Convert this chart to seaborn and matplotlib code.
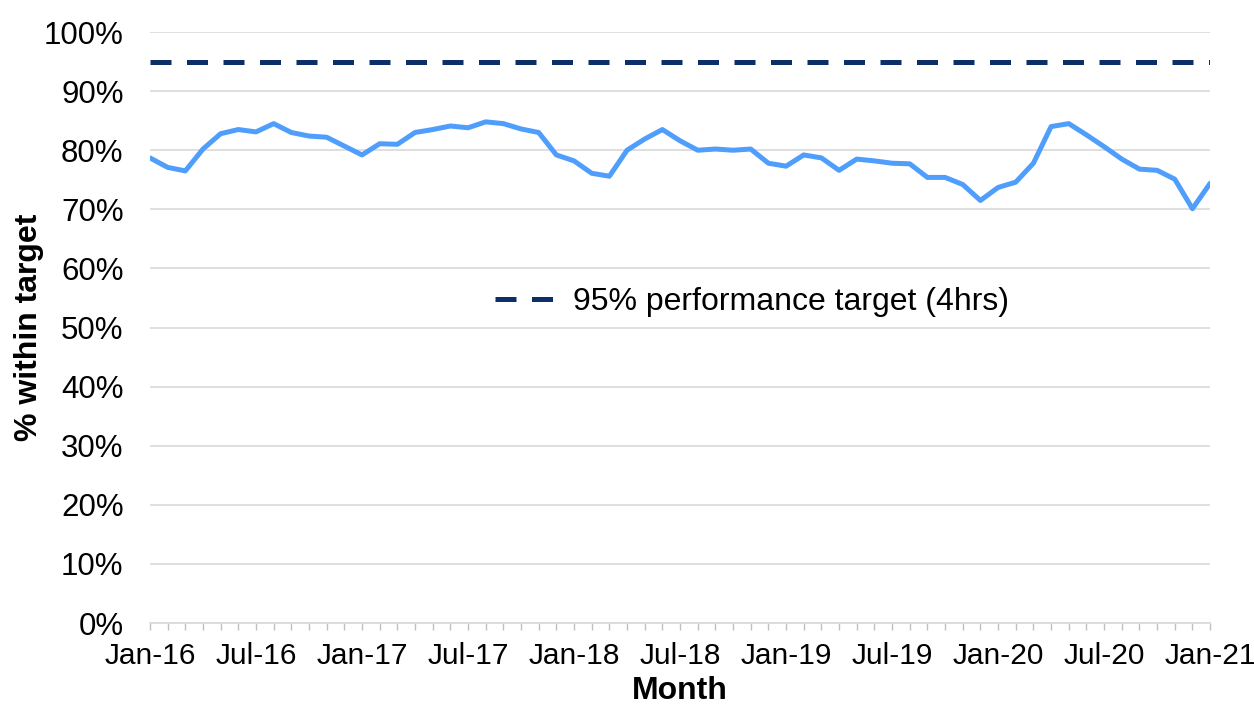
import numpy as np
import pandas as pd
import seaborn as sns
import matplotlib.pyplot as plt
from matplotlib.ticker import PercentFormatter, MultipleLocator

# monthly performance, Jan-16 .. Jan-21
months = pd.date_range('2016-01-01', '2021-01-01', freq='MS')
pct_within = [78.7, 77.1, 76.5, 80.2, 82.8, 83.5, 83.1, 84.5, 83.0, 82.4, 82.2, 80.7,
              79.2, 81.1, 81.0, 83.0, 83.5, 84.1, 83.8, 84.8, 84.5, 83.6, 83.0, 79.2,
              78.2, 76.1, 75.6, 80.0, 81.9, 83.5, 81.6, 80.0, 80.2, 80.0, 80.2, 77.8,
              77.3, 79.2, 78.7, 76.6, 78.5, 78.2, 77.8, 77.7, 75.4, 75.4, 74.2, 71.5,
              73.7, 74.6, 77.8, 84.0, 84.5, 82.6, 80.6, 78.5, 76.8, 76.6, 75.1, 70.1,
              74.4]
target = 95
tick_labels = ['Jan-16', 'Jul-16', 'Jan-17', 'Jul-17', 'Jan-18', 'Jul-18',
               'Jan-19', 'Jul-19', 'Jan-20', 'Jul-20', 'Jan-21']

df = pd.DataFrame({'idx': np.arange(len(months)), 'pct': pct_within})
df['target'] = target

sns.set_theme(style='white')
plt.rcParams['font.family'] = ['Liberation Sans', 'DejaVu Sans']
plt.rcParams['text.color'] = 'black'
plt.rcParams['axes.labelcolor'] = 'black'

fig, ax = plt.subplots(figsize=(12.54, 7.07), dpi=100)
fig.subplots_adjust(left=0.1196, right=0.965, top=0.9547, bottom=0.1188)

sns.lineplot(data=df, x='idx', y='target', ax=ax, color='#0B2F66', lw=3.6,
             dashes=False, linestyle=(0, (4.2, 3.1)), label='95% performance target (4hrs)')
sns.lineplot(data=df, x='idx', y='pct', ax=ax, color='#4F9EFC', lw=3.6, label='_nolegend_')

ax.set_xlim(0, len(months) - 1)
ax.set_ylim(0, 100)
ax.yaxis.set_major_locator(MultipleLocator(10))
ax.yaxis.set_major_formatter(PercentFormatter(decimals=0))
ax.grid(axis='y', color='#D9D9D9', lw=1.2)
ax.set_axisbelow(True)

ax.set_xticks(np.arange(0, len(months), 6))
ax.set_xticklabels(tick_labels)
ax.set_xticks(np.arange(len(months)), minor=True)
ax.tick_params(axis='x', which='both', direction='out', length=5, color='#BFBFBF',
               width=1, labelsize=21.5, pad=9, bottom=True, labelcolor='black')
ax.tick_params(axis='y', labelsize=22.5, length=0, pad=19, labelcolor='black')

for s in ['top', 'right', 'left']:
    ax.spines[s].set_visible(False)
ax.spines['bottom'].set_color('#D9D9D9')
ax.spines['bottom'].set_linewidth(1.2)

ax.set_xlabel('Month', fontsize=23, fontweight='bold', labelpad=4)
ax.set_ylabel('% within target', fontsize=23, fontweight='bold', labelpad=0)

ax.legend(loc='center', bbox_to_anchor=(0.568, 0.543), frameon=False, fontsize=23,
          handlelength=1.9, handletextpad=0.55)

plt.savefig('out.png')
